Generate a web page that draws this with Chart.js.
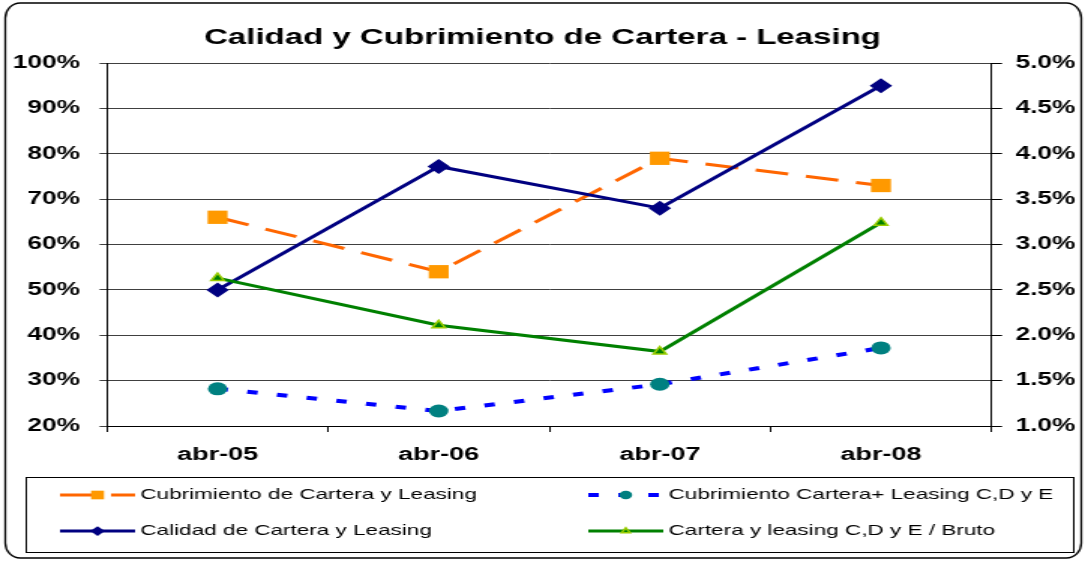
<!DOCTYPE html>
<html>
<head>
<meta charset="utf-8">
<script src="https://cdn.jsdelivr.net/npm/chart.js@4.4.0/dist/chart.umd.min.js"></script>
<style>
  html, body { margin:0; padding:0; background:#fff; overflow:hidden; }
  /* the original picture is stretched sideways, so draw narrow and widen it */
  #wrap { width:723px; height:562px; transform:scaleX(1.5007); transform-origin:0 0; }
</style>
</head>
<body>
<div id="wrap"><canvas id="chart" width="723" height="562"></canvas></div>
<script>
// ---------- DATA ----------
const LABELS = ["abr-05", "abr-06", "abr-07", "abr-08"];
const cubrimiento    = [0.66, 0.54, 0.79, 0.73];    // left axis
const cubrimientoCDE = [0.282, 0.233, 0.292, 0.372]; // left axis
const calidad        = [0.025, 0.0386, 0.034, 0.0475];  // right axis
const carteraCDE     = [0.0263, 0.0211, 0.0182, 0.0324]; // right axis
const NAMES = [
  "Cubrimiento de Cartera y Leasing",
  "Cubrimiento Cartera+ Leasing C,D y E",
  "Calidad de Cartera y Leasing",
  "Cartera y leasing C,D y E / Bruto"
];
const LEFT_MIN = 0.2, LEFT_MAX = 1.0, LEFT_STEP = 0.1;
const RIGHT_MIN = 0.01, RIGHT_MAX = 0.05, RIGHT_STEP = 0.005;

const FONT = "'Liberation Sans', Arial, sans-serif";
Chart.defaults.font.family = FONT;
Chart.defaults.color = "#000";

// ---------- HELPERS ----------
function drawMarker(ctx, style, x, y, r, fill, stroke, bw) {
  ctx.beginPath();
  if (style === "rect") {
    const s = r * Math.SQRT1_2;
    ctx.rect(x - s, y - s, 2 * s, 2 * s);
  } else if (style === "rectRot") {
    ctx.moveTo(x - r, y); ctx.lineTo(x, y - r); ctx.lineTo(x + r, y); ctx.lineTo(x, y + r);
    ctx.closePath();
  } else if (style === "triangle") {
    ctx.moveTo(x, y - r);
    ctx.lineTo(x + 0.866 * r, y + 0.5 * r);
    ctx.lineTo(x - 0.866 * r, y + 0.5 * r);
    ctx.closePath();
  } else {
    ctx.arc(x, y, r, 0, Math.PI * 2);
  }
  ctx.fillStyle = fill; ctx.fill();
  if (bw) { ctx.lineWidth = bw; ctx.strokeStyle = stroke; ctx.stroke(); }
}

// frame round the whole chart + the boxed legend (2 columns x 2 rows)
const frameLegend = {
  id: "frameLegend",
  afterDraw(chart) {
    const ctx = chart.ctx;
    ctx.save();
    ctx.strokeStyle = "#000";
    ctx.lineWidth = 1.3;
    ctx.beginPath();
    ctx.roundRect(3.5, 3, 717, 555, [{x: 10, y: 15}]);
    ctx.stroke();

    ctx.lineWidth = 1;
    ctx.strokeRect(17.5, 477.5, 698, 75);

    const spots = [[40, 495], [392, 495], [40, 531], [392, 531]];
    chart.data.datasets.forEach((ds, i) => {
      const [x, y] = spots[i];
      ctx.setLineDash(ds.borderDash || []);
      ctx.strokeStyle = ds.borderColor;
      ctx.lineWidth = ds.borderWidth;
      ctx.beginPath(); ctx.moveTo(x, y); ctx.lineTo(x + 50, y); ctx.stroke();
      ctx.setLineDash([]);
      drawMarker(ctx, ds.pointStyle, x + 25, y, ds.pointRadius * 0.65,
                 ds.pointBackgroundColor, ds.pointBorderColor, ds.pointBorderWidth);
      ctx.fillStyle = "#000";
      ctx.font = "15px " + FONT;
      ctx.textAlign = "left";
      ctx.textBaseline = "middle";
      ctx.fillText(NAMES[i], x + 53.5, y);
    });
    ctx.restore();
  }
};

// ---------- CHART ----------
new Chart(document.getElementById("chart"), {
  type: "line",
  data: {
    labels: LABELS,
    datasets: [
      { label: NAMES[0], data: cubrimiento, yAxisID: "y", order: 2,
        borderColor: "#FF6600", borderWidth: 3, borderDash: [22, 12],
        pointStyle: "rect", pointRadius: 9.4, pointBackgroundColor: "#FF9900",
        pointBorderColor: "#FF9900", pointBorderWidth: 0 },
      { label: NAMES[1], data: cubrimientoCDE, yAxisID: "y", order: 3,
        borderColor: "#0000FF", borderWidth: 4, borderDash: [7, 13],
        pointStyle: "circle", pointRadius: 6.5, pointBackgroundColor: "#008080",
        pointBorderColor: "#008080", pointBorderWidth: 0 },
      { label: NAMES[2], data: calidad, yAxisID: "y2", order: 1,
        borderColor: "#000080", borderWidth: 3,
        pointStyle: "rectRot", pointRadius: 7.5, pointBackgroundColor: "#000080",
        pointBorderColor: "#000080", pointBorderWidth: 0 },
      { label: NAMES[3], data: carteraCDE, yAxisID: "y2", order: 0,
        borderColor: "#008000", borderWidth: 3,
        pointStyle: "triangle", pointRadius: 5, pointBackgroundColor: "#008000",
        pointBorderColor: "#99CC00", pointBorderWidth: 1.5 }
    ]
  },
  options: {
    responsive: false,
    animation: false,
    devicePixelRatio: 1,
    layout: { padding: 0 },
    plugins: {
      legend: { display: false },
      tooltip: { enabled: false },
      title: {
        display: true,
        text: "Calidad y Cubrimiento de Cartera - Leasing",
        color: "#000",
        font: { size: 22, weight: "bold", lineHeight: 1.2 },
        padding: { top: 25, bottom: 11.6 }
      }
    },
    scales: {
      x: {
        offset: true,
        grid: { drawOnChartArea: false, offset: true, tickLength: 6, color: "#000" },
        border: { color: "#000" },
        ticks: { font: { size: 18, weight: "bold" }, padding: 12, color: "#000" },
        afterFit: s => { s.height = 136; }
      },
      y: {
        position: "left",
        min: LEFT_MIN, max: LEFT_MAX,
        ticks: { stepSize: LEFT_STEP, padding: 13, color: "#000",
                 font: { size: 17.5, weight: "bold" },
                 callback: v => Math.round(v * 100) + "%" },
        grid: { color: "#404040", tickLength: 5 },
        border: { color: "#000" },
        afterFit: s => { s.width = 71.3; }
      },
      y2: {
        position: "right",
        min: RIGHT_MIN, max: RIGHT_MAX,
        ticks: { stepSize: RIGHT_STEP, padding: 9, color: "#000",
                 font: { size: 17.5, weight: "bold" },
                 callback: v => (v * 100).toFixed(1) + "%" },
        grid: { drawOnChartArea: false, color: "#000", tickLength: 7 },
        border: { color: "#000" },
        afterFit: s => { s.width = 62.3; }
      }
    }
  },
  plugins: [frameLegend]
});
</script>
</body>
</html>
